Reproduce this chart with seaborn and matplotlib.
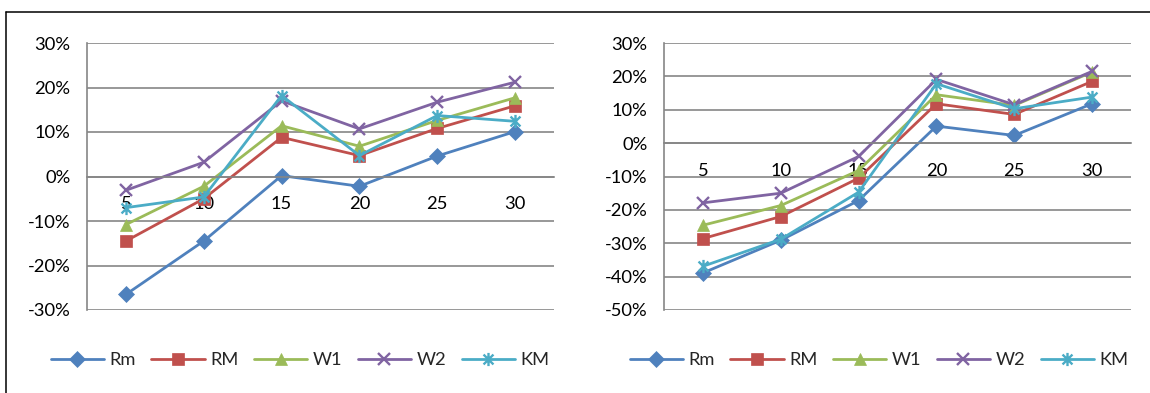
import matplotlib
matplotlib.use("Agg")
import matplotlib.pyplot as plt
from matplotlib.lines import Line2D
from matplotlib.path import Path
from matplotlib.ticker import PercentFormatter, FixedLocator
import seaborn as sns
import pandas as pd

# ---- data ----
categories = [5, 10, 15, 20, 25, 30]
series_names = ["Rm", "RM", "W1", "W2", "KM"]

left_Rm = [-0.265, -0.145, 0.002, -0.022, 0.046, 0.101]
left_RM = [-0.145, -0.050, 0.088, 0.047, 0.108, 0.159]
left_W1 = [-0.108, -0.022, 0.114, 0.068, 0.126, 0.177]
left_W2 = [-0.031, 0.032, 0.170, 0.107, 0.167, 0.212]
left_KM = [-0.070, -0.046, 0.182, 0.047, 0.137, 0.124]

right_Rm = [-0.389, -0.291, -0.172, 0.051, 0.023, 0.118]
right_RM = [-0.286, -0.220, -0.105, 0.118, 0.086, 0.185]
right_W1 = [-0.246, -0.187, -0.082, 0.145, 0.113, 0.213]
right_W2 = [-0.179, -0.150, -0.040, 0.191, 0.115, 0.215]
right_KM = [-0.369, -0.288, -0.147, 0.178, 0.103, 0.138]

left_ticks = [-0.3, -0.2, -0.1, 0.0, 0.1, 0.2, 0.3]
right_ticks = [-0.5, -0.4, -0.3, -0.2, -0.1, 0.0, 0.1, 0.2, 0.3]

# ---- style ----
sns.set_theme(style="white")
plt.rcParams["font.family"] = ["Lato", "DejaVu Sans"]
plt.rcParams["axes.unicode_minus"] = False

colors = {"Rm": "#4F81BD", "RM": "#C0504D", "W1": "#9BBB59",
          "W2": "#8064A2", "KM": "#4BACC6"}
star = Path([(0, -1), (0, 1), (-0.75, -0.75), (0.75, 0.75), (-0.75, 0.75), (0.75, -0.75)],
            [Path.MOVETO, Path.LINETO, Path.MOVETO, Path.LINETO, Path.MOVETO, Path.LINETO])
markers = {"Rm": "D", "RM": "s", "W1": "^", "W2": "x", "KM": star}
msizes = {"Rm": 8.0, "RM": 8.5, "W1": 9.0, "W2": 8.5, "KM": 9.5}

W, H = 1150, 393
fig = plt.figure(figsize=(W / 100, H / 100), dpi=100)
grid_col = "#868686"
FS = 13.2


def make_df(vals):
    rows = []
    for name, v in zip(series_names, vals):
        for c, y in zip(categories, v):
            rows.append({"cat": c, "val": y, "series": name})
    return pd.DataFrame(rows)


def mew(name):
    return 1.7 if name in ("W2", "KM") else 0.5


def draw(ax, df, ticks, legend_x):
    for name in series_names:
        d = df[df["series"] == name]
        sns.lineplot(data=d, x="cat", y="val", ax=ax, color=colors[name],
                     marker=markers[name], markersize=msizes[name],
                     markeredgecolor=colors[name], markerfacecolor=colors[name],
                     markeredgewidth=mew(name), linewidth=2.0, label=name, legend=False)
    ax.set_xlim(2.5, 32.5)
    ax.set_ylim(ticks[0], ticks[-1])
    ax.yaxis.set_major_locator(FixedLocator(ticks))
    ax.yaxis.set_major_formatter(PercentFormatter(xmax=1, decimals=0))
    ax.set_xticks(categories)
    ax.set_xticklabels([str(c) for c in categories])
    ax.xaxis.set_minor_locator(FixedLocator([c - 2.5 for c in categories] + [categories[-1] + 2.5]))
    ax.grid(axis="y", color=grid_col, linewidth=1.2)
    ax.set_axisbelow(True)
    for s in ["top", "right"]:
        ax.spines[s].set_visible(False)
    for s in ["left", "bottom"]:
        ax.spines[s].set_color(grid_col)
        ax.spines[s].set_linewidth(1.2)
    ax.spines["bottom"].set_position(("data", 0))
    ax.tick_params(axis="y", which="major", length=4, width=1.2, color=grid_col,
                   direction="out", pad=8, labelsize=FS, labelcolor="black")
    ax.tick_params(axis="x", which="major", length=0, pad=14, labelsize=FS,
                   labelcolor="black")
    ax.tick_params(axis="x", which="minor", length=4, width=1.2, color=grid_col,
                   direction="out")
    ax.set_xlabel("")
    ax.set_ylabel("")
    handles = [Line2D([], [], color=colors[n], marker=markers[n], markersize=msizes[n],
                      markeredgecolor=colors[n], markerfacecolor=colors[n],
                      markeredgewidth=mew(n), linewidth=2.0)
               for n in series_names]
    ax.legend(handles, series_names, loc="center", bbox_to_anchor=(legend_x, 1 - 360 / H),
              bbox_transform=fig.transFigure, ncol=5, frameon=False, fontsize=FS,
              handlelength=2.9, handletextpad=0.3, columnspacing=0.85)


bottom = 1 - 310 / H
top = 1 - 43 / H
ax1 = fig.add_axes([87 / W, bottom, (554 - 87) / W, top - bottom])
ax2 = fig.add_axes([664 / W, bottom, (1131 - 664) / W, top - bottom])

draw(ax1, make_df([left_Rm, left_RM, left_W1, left_W2, left_KM]), left_ticks, 300 / W)
draw(ax2, make_df([right_Rm, right_RM, right_W1, right_W2, right_KM]), right_ticks, 879 / W)

# outer frame (top and left edges)
fig.add_artist(Line2D([6 / W, 1], [1 - 12 / H, 1 - 12 / H], transform=fig.transFigure,
                      color="black", linewidth=1.1))
fig.add_artist(Line2D([6 / W, 6 / W], [0, 1 - 12 / H], transform=fig.transFigure,
                      color="black", linewidth=1.1))

fig.savefig("out.png", dpi=100)
